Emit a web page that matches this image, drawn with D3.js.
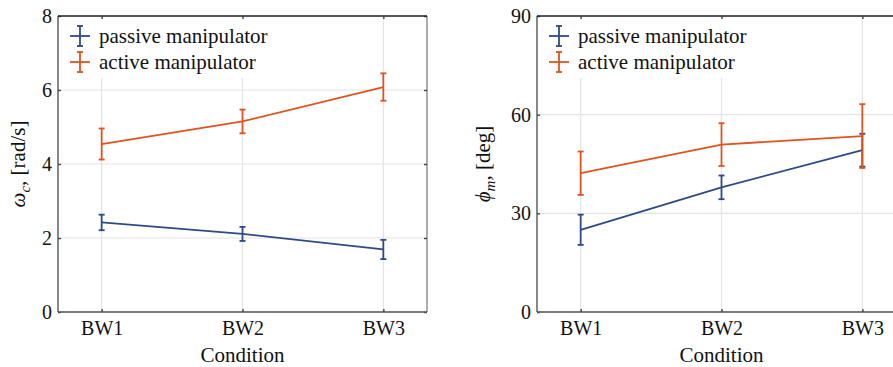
<!DOCTYPE html>
<html>
<head>
<meta charset="utf-8">
<script src="https://cdn.jsdelivr.net/npm/d3@7"></script>
<style>
  html, body { margin: 0; padding: 0; background: #fff; }
  svg text { font-family: "Liberation Serif", "DejaVu Serif", serif; }
</style>
</head>
<body>
<svg id="chart" width="893" height="367"></svg>
<script>
// Conditions on the x axis
const conditions = ["BW1", "BW2", "BW3"];

// Crossover frequency [rad/s]: means and half-widths of the error bars
const omegaPassive = [2.42, 2.11, 1.69];
const omegaPassiveErr = [0.21, 0.19, 0.26];
const omegaActive = [4.54, 5.15, 6.08];
const omegaActiveErr = [0.42, 0.32, 0.37];

// Phase margin [deg]
const phiPassive = [25.0, 37.9, 49.2];
const phiPassiveErr = [4.6, 3.6, 5.0];
const phiActive = [42.2, 50.9, 53.5];
const phiActiveErr = [6.6, 6.5, 9.7];

// Tick values
const omegaTicks = [0, 2, 4, 6, 8];
const phiTicks = [0, 30, 60, 90];

const seriesNames = ["passive manipulator", "active manipulator"];
const colors = ["#2d4a87", "#e0521f"];

const FONT = "'Liberation Serif', 'DejaVu Serif', serif";
const svg = d3.select("#chart");

function panel(opts) {
  const { left, top, width, height, yMax, yTicks, passive, passiveErr, active, activeErr, yLabel, yLabelX } = opts;
  const g = svg.append("g").attr("transform", `translate(${left},${top})`);

  const x = d3.scalePoint().domain(conditions).range([0, width]).padding(0.31);
  const y = d3.scaleLinear().domain([0, yMax]).range([height, 0]);

  // grid
  g.append("g").selectAll("line").data(conditions).join("line")
    .attr("x1", d => x(d)).attr("x2", d => x(d)).attr("y1", 0).attr("y2", height)
    .attr("stroke", "#e4e4e4").attr("stroke-width", 1.2);
  g.append("g").selectAll("line").data(yTicks).join("line")
    .attr("x1", 0).attr("x2", width).attr("y1", d => y(d)).attr("y2", d => y(d))
    .attr("stroke", "#e4e4e4").attr("stroke-width", 1.2);

  // legend background (covers the grid)
  g.append("rect").attr("x", 2).attr("y", 2).attr("width", 222).attr("height", 60).attr("fill", "#fff");

  // axes: ticks inward on all sides
  const axL = d3.axisLeft(y).tickValues(yTicks).tickSize(-3).tickPadding(6).tickFormat(d3.format("d"));
  const axR = d3.axisRight(y).tickValues(yTicks).tickSize(-3).tickFormat("");
  const axB = d3.axisBottom(x).tickSize(-3).tickPadding(9);
  const axT = d3.axisTop(x).tickSize(-3).tickFormat("");

  const styleAxis = sel => {
    sel.attr("font-family", FONT);
    sel.select(".domain").attr("stroke", "#555").attr("stroke-width", 1.4);
    sel.selectAll(".tick line").attr("stroke", "#444").attr("stroke-width", 1.4);
    sel.selectAll("text").attr("fill", "#111").style("font-size", "20px").style("font-family", FONT);
  };
  g.append("g").call(axL).call(styleAxis).call(s => s.select(".domain").attr("d", `M0,${height}V0`));
  g.append("g").attr("transform", `translate(${width},0)`).call(axR).call(styleAxis)
    .call(s => s.select(".domain").attr("d", `M0,${height}V0`).attr("stroke", "#888"));
  g.append("g").attr("transform", `translate(0,${height})`).call(axB).call(styleAxis)
    .call(s => s.select(".domain").attr("d", `M0,0H${width}`));
  g.append("g").call(axT).call(styleAxis)
    .call(s => s.select(".domain").attr("d", `M0,0H${width}`).attr("stroke", "#222"));

  // series with error bars
  const series = [
    { vals: passive, err: passiveErr, color: colors[0] },
    { vals: active, err: activeErr, color: colors[1] }
  ];
  const line = d3.line().x((d, i) => x(conditions[i])).y(d => y(d));
  series.forEach(s => {
    g.append("path").datum(s.vals).attr("d", line)
      .attr("fill", "none").attr("stroke", s.color).attr("stroke-width", 1.8);
    const eb = g.append("g").attr("stroke", s.color).attr("stroke-width", 1.8);
    s.vals.forEach((v, i) => {
      const cx = x(conditions[i]);
      const lo = y(v - s.err[i]), hi = y(v + s.err[i]);
      eb.append("line").attr("x1", cx).attr("x2", cx).attr("y1", lo).attr("y2", hi);
      eb.append("line").attr("x1", cx - 3).attr("x2", cx + 3).attr("y1", lo).attr("y2", lo);
      eb.append("line").attr("x1", cx - 3).attr("x2", cx + 3).attr("y1", hi).attr("y2", hi);
    });
  });

  // legend
  seriesNames.forEach((name, i) => {
    const ly = 20 + i * 26;
    const c = colors[i];
    const item = g.append("g").attr("stroke", c).attr("stroke-width", 1.8);
    item.append("line").attr("x1", 12).attr("x2", 32).attr("y1", ly).attr("y2", ly);
    item.append("line").attr("x1", 22).attr("x2", 22).attr("y1", ly - 10).attr("y2", ly + 10);
    item.append("line").attr("x1", 19).attr("x2", 25).attr("y1", ly - 10).attr("y2", ly - 10);
    item.append("line").attr("x1", 19).attr("x2", 25).attr("y1", ly + 10).attr("y2", ly + 10);
    g.append("text").attr("x", 41).attr("y", ly + 7).text(name)
      .attr("fill", "#111").style("font-size", "21px").style("font-family", FONT);
  });

  // axis titles
  g.append("text").attr("x", width / 2).attr("y", height + 50).attr("text-anchor", "middle")
    .attr("fill", "#111").style("font-size", "21px").style("font-family", FONT).text("Condition");
  const yt = g.append("text").attr("transform", `translate(${yLabelX},${height / 2}) rotate(-90)`)
    .attr("text-anchor", "middle").attr("fill", "#111").style("font-size", "21px").style("font-family", FONT);
  yLabel(yt);
}

panel({
  left: 58, top: 16, width: 369, height: 296, yMax: 8, yTicks: omegaTicks, yLabelX: -33,
  passive: omegaPassive, passiveErr: omegaPassiveErr, active: omegaActive, activeErr: omegaActiveErr,
  yLabel: t => {
    t.append("tspan").style("font-style", "italic").text("ω");
    t.append("tspan").style("font-style", "italic").style("font-size", "15px").attr("dy", 5).text("c");
    t.append("tspan").attr("dy", -5).text(", [rad/s]");
  }
});

panel({
  left: 537, top: 16, width: 369, height: 296, yMax: 90, yTicks: phiTicks, yLabelX: -47,
  passive: phiPassive, passiveErr: phiPassiveErr, active: phiActive, activeErr: phiActiveErr,
  yLabel: t => {
    t.append("tspan").style("font-style", "italic").text("ϕ");
    t.append("tspan").style("font-style", "italic").style("font-size", "15px").attr("dy", 5).text("m");
    t.append("tspan").attr("dy", -5).text(", [deg]");
  }
});
</script>
</body>
</html>
